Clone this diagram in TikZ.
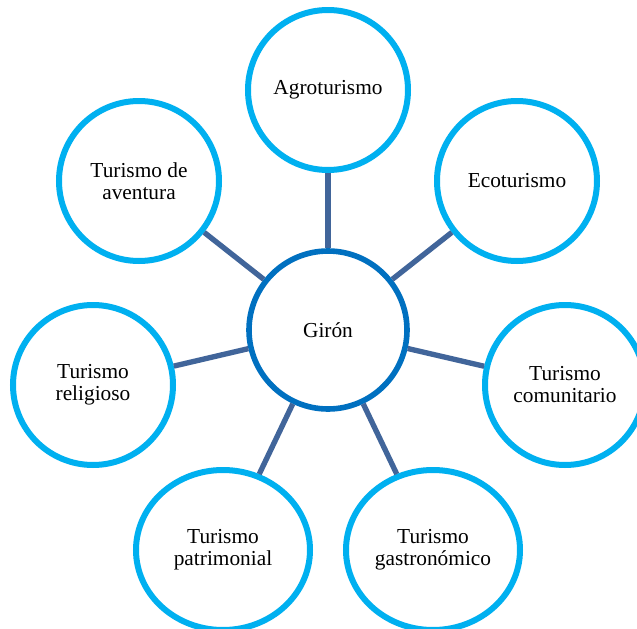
\documentclass[tikz,border=0pt]{standalone}
\usepackage{fontspec}
\setmainfont{Liberation Serif}
\usetikzlibrary{shapes.geometric}
\definecolor{ringblue}{HTML}{00B0F0}
\definecolor{hubblue}{HTML}{0070C0}
\definecolor{linkblue}{HTML}{41659A}

\begin{document}
\begin{tikzpicture}[x=0.75pt, y=-0.75pt,
    font=\fontsize{16}{16.5}\selectfont,
    tipo/.style ={circle, draw=ringblue, line width=4.5pt, minimum size=120pt, inner sep=0pt, align=center},
    tipobajo/.style ={ellipse, draw=ringblue, line width=4.5pt, minimum width=130.5pt, minimum height=120pt, inner sep=0pt, align=center},
    centro/.style ={circle, draw=hubblue, line width=4.2pt, minimum size=118.5pt, inner sep=0pt},
    enlace/.style ={draw=linkblue, line width=4pt}]
   \clip (0,0) rectangle (637,629);
   \fill[white] (0,0) rectangle (637,629);

   \node[centro] (giron) at (328,330) {Girón};
   \node[tipo] (agro) at (328,90) {Agroturismo};
   \node[tipo] (eco) at (517,181) {Ecoturismo};
   \node[tipo] (comun) at (565,385) {Turismo\\comunitario};
   \node[tipobajo] (gastro) at (433,550) {Turismo\\gastronómico};
   \node[tipobajo] (patri) at (223,550) {Turismo\\patrimonial};
   \node[tipo] (relig) at (93,385) {Turismo\\religioso};
   \node[tipo] (avent) at (139,181) {Turismo de\\aventura};

   \draw[enlace] (giron) to (agro);
   \draw[enlace] (giron) to (eco);
   \draw[enlace] (giron) to (comun);
   \draw[enlace] (giron) to (gastro);
   \draw[enlace] (giron) to (patri);
   \draw[enlace] (giron) to (relig);
   \draw[enlace] (giron) to (avent);
\end{tikzpicture}
\end{document}
